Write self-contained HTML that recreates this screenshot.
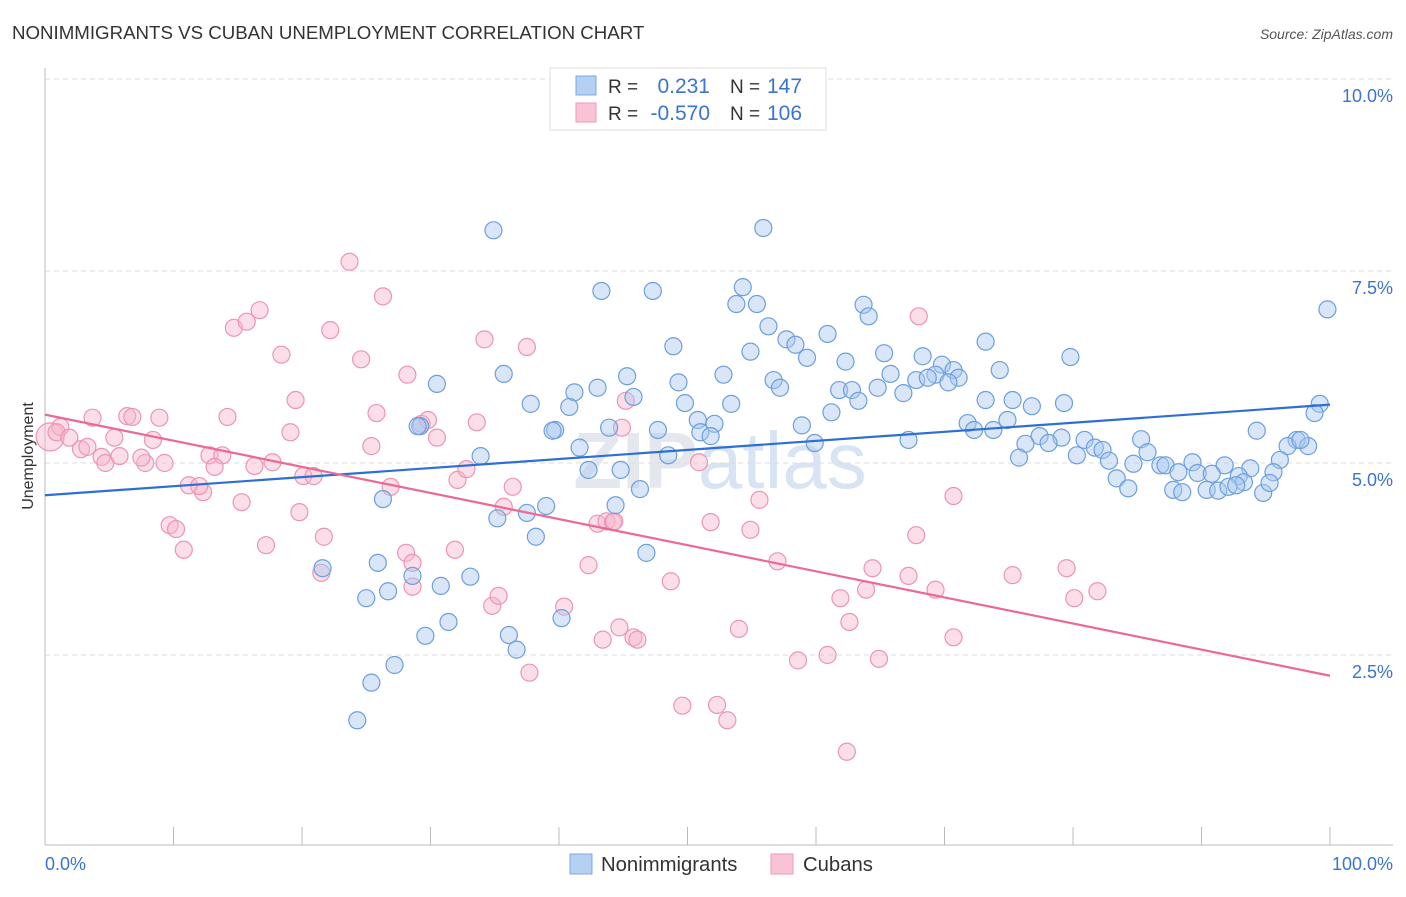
<!DOCTYPE html>
<html><head><meta charset="utf-8"><style>
body{margin:0;background:#fff;font-family:"Liberation Sans",sans-serif;}
svg text{font-family:"Liberation Sans",sans-serif;}
</style></head><body>
<svg id="chart" width="1406" height="892" viewBox="0 0 1406 892">
<text x="12" y="39" font-size="18.7" fill="#333">NONIMMIGRANTS VS CUBAN UNEMPLOYMENT CORRELATION CHART</text>
<text x="1393" y="39" font-size="14" fill="#555" font-style="italic" text-anchor="end">Source: ZipAtlas.com</text>
<text x="33" y="456" font-size="16" fill="#333" text-anchor="middle" transform="rotate(-90 33 456)">Unemployment</text>
<text x="720" y="488" font-size="80" fill="#e4e8ee" text-anchor="middle" font-weight="bold">ZIP<tspan fill="#d8e4f3" font-weight="normal">atlas</tspan></text>
<g id="grid"></g><g id="axes"></g><g id="pink"></g><g id="blue"></g><g id="trends"></g>
<g>
<rect x="550" y="68" width="276" height="62" fill="#fff" stroke="#ddd"/>
<rect x="576" y="76" width="20" height="19" fill="#b5d0f3" stroke="#7aa8e3"/>
<rect x="576" y="103" width="20" height="19" fill="#f8c4d4" stroke="#ee9ab6"/>
<text x="608" y="93" font-size="19" fill="#333">R = </text><text x="710" y="93" font-size="21" fill="#3b74d0" text-anchor="end">0.231</text>
<text x="730" y="93" font-size="19" fill="#333">N = </text><text x="767" y="93" font-size="21" fill="#3b74d0">147</text>
<text x="608" y="120" font-size="19" fill="#333">R = </text><text x="710" y="120" font-size="21" fill="#3b74d0" text-anchor="end">-0.570</text>
<text x="730" y="120" font-size="19" fill="#333">N = </text><text x="767" y="120" font-size="21" fill="#3b74d0">106</text>
</g>
<g>
<rect x="570" y="854" width="22" height="20" fill="#b5d0f3" stroke="#7aa8e3"/>
<text x="601" y="871" font-size="20.3" fill="#333">Nonimmigrants</text>
<rect x="771" y="854" width="22" height="20" fill="#f8c4d4" stroke="#ee9ab6"/>
<text x="803" y="871" font-size="20.3" fill="#333">Cubans</text>
</g>
</svg>
<script>
const yTicks=[2.5,5,7.5,10];
const yTickLabels=["2.5%","5.0%","7.5%","10.0%"];
const blueX=[34.9,55.9,43.3,47.3,54.3,53.8,55.4,63.7,64.1,99.8,56.3,60.9,57.7,48.9,58.4,73.2,54.9,65.3,59.3,68.3,79.8,62.3,69.8,70.7,74.3,35.7,45.3,52.8,69.3,71.1,30.5,49.3,56.7,65.8,67.8,68.7,43.0,41.2,57.2,61.8,62.8,64.8,66.8,70.3,45.8,37.8,40.8,49.8,53.4,63.3,73.2,75.3,76.8,79.3,99.2,98.8,61.2,50.8,39.7,43.9,47.7,52.1,39.5,29.2,58.9,71.8,74.9,72.3,73.8,94.3,51.0,51.8,59.9,67.2,77.4,79.1,80.9,85.3,76.3,78.1,97.4,96.7,98.3,41.6,48.5,81.7,82.3,85.8,75.8,80.3,82.8,33.9,84.7,86.8,87.2,89.3,91.8,93.8,96.1,42.3,44.8,88.2,89.7,90.8,92.9,95.6,83.4,93.3,84.3,87.8,88.5,90.4,91.3,92.1,92.7,94.8,95.3,46.3,26.3,44.4,39.0,35.2,37.5,38.2,46.8,25.9,21.6,28.6,33.1,25.0,26.7,30.8,31.4,29.6,36.1,36.7,40.2,27.2,25.4,24.3,29.0,97.7];
const blueY=[8.03,8.06,7.24,7.24,7.29,7.07,7.07,7.06,6.91,7.00,6.78,6.68,6.61,6.52,6.54,6.58,6.45,6.43,6.37,6.39,6.38,6.32,6.28,6.21,6.21,6.16,6.13,6.15,6.15,6.11,6.03,6.05,6.08,6.16,6.08,6.11,5.98,5.92,5.98,5.95,5.95,5.98,5.91,6.05,5.86,5.77,5.73,5.78,5.77,5.81,5.82,5.82,5.74,5.78,5.77,5.65,5.66,5.56,5.43,5.46,5.43,5.51,5.42,5.48,5.49,5.52,5.56,5.43,5.43,5.42,5.40,5.35,5.26,5.30,5.35,5.33,5.30,5.31,5.25,5.26,5.30,5.22,5.22,5.20,5.10,5.20,5.17,5.14,5.07,5.10,5.03,5.09,4.99,4.97,4.97,5.01,4.97,4.93,5.04,4.91,4.91,4.88,4.87,4.86,4.83,4.88,4.80,4.75,4.67,4.65,4.62,4.65,4.64,4.69,4.71,4.61,4.74,4.66,4.53,4.45,4.44,4.28,4.35,4.04,3.83,3.70,3.63,3.53,3.52,3.24,3.33,3.40,2.93,2.75,2.76,2.57,2.98,2.37,2.14,1.65,5.48,5.30];
const pinkX=[0.4,1.2,0.9,1.9,2.8,3.7,3.3,5.4,4.4,4.7,6.4,6.8,8.9,8.4,7.8,5.8,7.5,9.3,11.2,12.3,12.0,14.2,12.8,13.8,13.2,15.3,16.3,17.7,17.2,9.7,10.2,10.8,14.7,15.7,16.7,18.4,19.1,19.5,19.8,20.1,20.9,21.7,21.5,22.2,23.7,24.6,25.4,25.8,26.3,26.9,28.2,28.1,28.6,28.6,29.3,29.8,30.5,31.9,32.1,32.8,33.6,34.2,34.8,35.3,35.7,36.4,37.5,37.7,40.4,42.3,43.0,43.7,44.2,44.3,45.2,44.9,43.4,44.7,45.8,46.1,48.7,49.6,50.9,51.8,52.3,53.1,54.0,54.9,55.6,57.0,58.6,60.9,61.9,62.4,62.6,63.9,64.4,64.9,67.2,68.0,67.8,69.3,70.7,70.7,75.3,79.5,80.1,81.9];
const pinkY=[5.34,5.47,5.40,5.33,5.18,5.59,5.21,5.33,5.08,5.00,5.61,5.60,5.59,5.30,5.00,5.09,5.07,5.00,4.71,4.62,4.70,5.60,5.10,5.10,4.95,4.49,4.96,5.01,3.93,4.19,4.14,3.87,6.76,6.84,6.99,6.41,5.40,5.82,4.36,4.83,4.83,4.04,3.57,6.73,7.62,6.35,5.22,5.65,7.17,4.69,6.15,3.83,3.70,3.39,5.51,5.56,5.33,3.87,4.78,4.92,5.53,6.61,3.14,3.27,4.43,4.69,6.51,2.27,3.13,3.67,4.21,4.24,4.23,4.24,5.81,5.46,2.70,2.86,2.73,2.70,3.46,1.84,5.01,4.23,1.85,1.65,2.84,4.13,4.52,3.72,2.43,2.50,3.24,1.24,2.93,3.35,3.63,2.45,3.53,6.91,4.06,3.35,2.73,4.57,3.54,3.63,3.24,3.33];
const blueTrendX=[0,100], blueTrendY=[4.58,5.76];
const pinkTrendX=[0,100], pinkTrendY=[5.63,2.23];

const NS="http://www.w3.org/2000/svg";
const X0=45,X1=1330,Y0=847,PPU=76.8;
const sx=v=>X0+(X1-X0)*v/100;
const sy=v=>Y0-v*PPU;
function mk(tag,attrs,parent){const e=document.createElementNS(NS,tag);for(const k in attrs)e.setAttribute(k,attrs[k]);parent.appendChild(e);return e;}
const grid=document.getElementById('grid'),axes=document.getElementById('axes');
mk('line',{x1:45,x2:1393,y1:sy(10),y2:sy(10),stroke:'#ddd','stroke-dasharray':'5,4'},grid);
yTicks.forEach((t,i)=>{
  const l=mk('line',{x1:45,x2:1393,y1:sy(t),y2:sy(t),stroke:'#ddd','stroke-dasharray':'5,4'},grid);
  
  
  const tx=mk('text',{x:1393,y:sy(t)+23,'font-size':18,fill:'#3b74d0','text-anchor':'end'},axes);
  tx.textContent=yTickLabels[i];
  
  
});
mk('line',{x1:45,x2:45,y1:68,y2:845,stroke:'#bbb'},axes);
mk('line',{x1:45,x2:1393,y1:845,y2:845,stroke:'#bbb'},axes);
for(let k=0;k<=10;k++){mk('line',{x1:sx(k*10),x2:sx(k*10),y1:827,y2:845,stroke:'#bbb'},axes);}
let t1=mk('text',{x:45,y:870,'font-size':18,fill:'#3b74d0'},axes);t1.textContent='0.0%';


let t2=mk('text',{x:1393,y:870,'font-size':18,fill:'#3b74d0','text-anchor':'end'},axes);t2.textContent='100.0%';


function pts(xs,ys,g,fill,stroke,name){
  xs.forEach((x,i)=>{
    const c=mk('circle',{cx:sx(x),cy:sy(ys[i]),r:(name==='cuban-point'&&i===0)?14:8.5,fill:fill,'fill-opacity':0.45,stroke:stroke,'stroke-width':1.2},g);
    
    
  });
}
pts(pinkX,pinkY,document.getElementById('pink'),'#f6b6ca','#ec95b3','cuban-point');
pts(blueX,blueY,document.getElementById('blue'),'#a9c8f0','#6d9fdd','nonimmigrant-point');
const tr=document.getElementById('trends');
const bl=mk('line',{x1:sx(blueTrendX[0]),y1:sy(blueTrendY[0]),x2:sx(blueTrendX[1]),y2:sy(blueTrendY[1]),stroke:'#2e6fd6','stroke-width':2.2},tr);


const pl=mk('line',{x1:sx(pinkTrendX[0]),y1:sy(pinkTrendY[0]),x2:sx(pinkTrendX[1]),y2:sy(pinkTrendY[1]),stroke:'#ea6a94','stroke-width':2.2},tr);


</script>
</body></html>
